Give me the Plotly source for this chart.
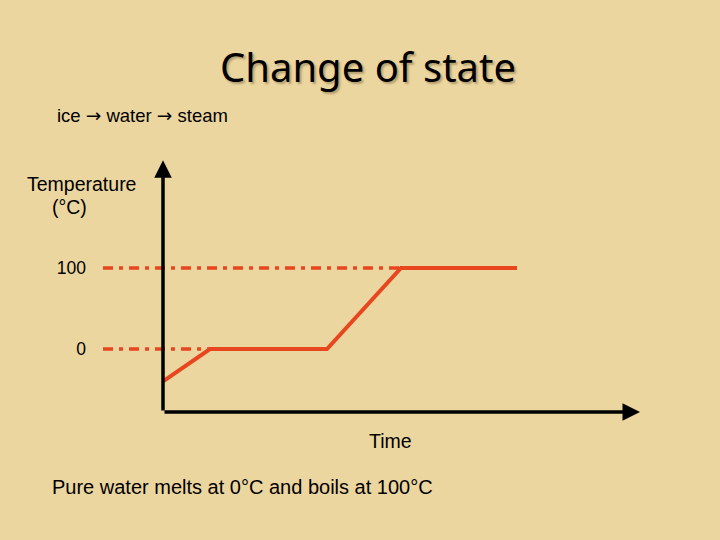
import plotly.graph_objects as go

# heating curve of water (time in arbitrary units, temperature in deg C)
time = [0, 4.7, 16.4, 23.8, 35.4]
temperature = [-40, 0, 0, 100, 100]

# reference levels (melting and boiling point) drawn from left of the axis
ref_levels = [0, 100]
ref_start = -6
ref_end = [4.7, 23.8]
tick_labels = ["0", "100"]

x_axis_end = 47.7
y_axis_end = 233
axis_origin_y = -77.8

W, H = 720, 540
L, R, T, B = 103, 80, 150, 120
pw, ph = W - L - R, H - T - B


def px(x, y):
    # page pixel -> paper coords
    return (x - L) / pw, (H - B - y) / ph


bg = "#ECD6A0"
red = "#E8461E"

fig = go.Figure()

for lvl, end in zip(ref_levels, ref_end):
    fig.add_trace(go.Scatter(
        x=[ref_start, end], y=[lvl, lvl], mode="lines",
        line=dict(color=red, width=3.5, dash="10px,6px,4px,6px"),
        hoverinfo="skip", showlegend=False))

fig.add_trace(go.Scatter(
    x=time, y=temperature, mode="lines",
    line=dict(color=red, width=4), showlegend=False))

# axes with arrow heads
fig.add_annotation(x=0, y=y_axis_end, ax=0, ay=axis_origin_y, xref="x", yref="y",
                   axref="x", ayref="y", showarrow=True, arrowhead=2,
                   arrowsize=1, arrowwidth=3.5, arrowcolor="black", text="")
fig.add_annotation(x=x_axis_end, y=axis_origin_y, ax=0, ay=axis_origin_y,
                   xref="x", yref="y", axref="x", ayref="y", showarrow=True,
                   arrowhead=2, arrowsize=1, arrowwidth=3.5, arrowcolor="black", text="")

body = dict(family="Liberation Sans, Arial, sans-serif", color="black")


def label(x, y, text, size, xanchor="center"):
    xx, yy = px(x, y)
    fig.add_annotation(x=xx, y=yy, xref="paper", yref="paper", text=text,
                       showarrow=False, xanchor=xanchor, yanchor="middle",
                       font=dict(size=size, **body))


arrow = '<span style="font-family:DejaVu Sans">→</span>'
label(55, 115, f"ice {arrow} water {arrow} steam", 18.5, "left")
label(81, 184, "Temperature", 19.5)
label(69, 207, "(°C)", 19.5)
label(390, 441, "Time", 19.5)
label(50, 487, "Pure water melts at 0°C and boils at 100°C", 20, "left")

fig.update_xaxes(range=[ref_start, x_axis_end], visible=False)
fig.update_yaxes(range=[-(H - B - 349) / 0.81, (349 - T) / 0.81],
                 tickvals=ref_levels, ticktext=tick_labels, showgrid=False,
                 zeroline=False, showline=False, ticks="", ticklabelstandoff=16,
                 tickfont=dict(size=17.5, **body))

fig.update_layout(
    width=W, height=H, paper_bgcolor=bg, plot_bgcolor=bg,
    margin=dict(l=L, r=R, t=T, b=B), showlegend=False,
    title=dict(text="Change of state", x=(368 - L) / pw, y=1 - 68 / H, xref="paper",
               yref="container", xanchor="center", yanchor="middle",
               font=dict(family="Comic Sans MS, Noto Sans", size=40, color="black",
                         shadow="2px 2px 2px rgba(110,90,50,0.45)")))

fig.write_html("out.html", config={"displayModeBar": False},
               post_script="document.body.style.margin='0';")
